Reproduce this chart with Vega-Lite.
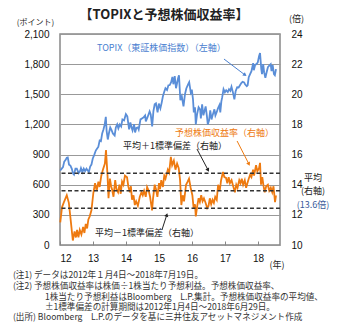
{
"$schema":"https://vega.github.io/schema/vega-lite/v6.json",
"width":220,"height":211,
"autosize":{"type":"none"},
"padding":{"left":60,"top":34,"right":69,"bottom":85},
"config":{"view":{"stroke":"#888888","strokeWidth":1.5},"font":"Noto Sans CJK JP",
 "axis":{"labelFont":"Liberation Sans","labelFontSize":10,"labelColor":"#111111","titleFont":"Noto Sans CJK JP","titleFontWeight":"normal","titleColor":"#222222","domain":false}},
"title":{"text":"【TOPIXと予想株価収益率】","font":"Noto Sans CJK JP","fontSize":13,"fontWeight":"bold","color":"#222222","anchor":"middle","frame":"group","baseline":"middle","offset":0,"dx":-6,"dy":14},
"datasets":{
"topix":[
{"date":"2012-01-04","value":742},{"date":"2012-01-20","value":760},{"date":"2012-02-03","value":775},{"date":"2012-02-17","value":830},{"date":"2012-03-02","value":845},{"date":"2012-03-16","value":868},{"date":"2012-03-27","value":872},{"date":"2012-04-10","value":800},{"date":"2012-04-25","value":790},{"date":"2012-05-10","value":760},{"date":"2012-05-25","value":710},{"date":"2012-06-04","value":700},{"date":"2012-06-20","value":760},{"date":"2012-07-05","value":760},{"date":"2012-07-25","value":715},{"date":"2012-08-10","value":735},{"date":"2012-08-20","value":765},{"date":"2012-09-05","value":725},{"date":"2012-09-20","value":760},{"date":"2012-10-05","value":735},{"date":"2012-10-20","value":760},{"date":"2012-11-05","value":740},{"date":"2012-11-15","value":725},{"date":"2012-11-30","value":781},{"date":"2012-12-14","value":800},{"date":"2012-12-28","value":859},
{"date":"2013-01-15","value":900},{"date":"2013-01-31","value":940},{"date":"2013-02-15","value":960},{"date":"2013-02-28","value":976},{"date":"2013-03-15","value":1040},{"date":"2013-03-29","value":1034},{"date":"2013-04-12","value":1110},{"date":"2013-04-26","value":1150},{"date":"2013-05-10","value":1200},{"date":"2013-05-22","value":1276},{"date":"2013-05-31","value":1136},{"date":"2013-06-13","value":1050},{"date":"2013-06-25","value":1110},{"date":"2013-07-10","value":1170},{"date":"2013-07-26","value":1140},{"date":"2013-08-08","value":1110},{"date":"2013-08-28","value":1090},{"date":"2013-09-10","value":1170},{"date":"2013-09-25","value":1200},{"date":"2013-10-08","value":1160},{"date":"2013-10-24","value":1200},{"date":"2013-11-08","value":1180},{"date":"2013-11-22","value":1250},{"date":"2013-12-10","value":1240},{"date":"2013-12-30","value":1302},
{"date":"2014-01-15","value":1280},{"date":"2014-02-04","value":1150},{"date":"2014-02-18","value":1220},{"date":"2014-03-03","value":1170},{"date":"2014-03-14","value":1140},{"date":"2014-03-31","value":1202},{"date":"2014-04-11","value":1120},{"date":"2014-04-25","value":1165},{"date":"2014-05-12","value":1170},{"date":"2014-05-21","value":1150},{"date":"2014-06-10","value":1250},{"date":"2014-06-30","value":1262},{"date":"2014-07-15","value":1270},{"date":"2014-07-31","value":1289},{"date":"2014-08-08","value":1230},{"date":"2014-08-29","value":1277},{"date":"2014-09-19","value":1330},{"date":"2014-10-01","value":1300},{"date":"2014-10-17","value":1180},{"date":"2014-10-31","value":1333},{"date":"2014-11-14","value":1400},{"date":"2014-11-28","value":1410},{"date":"2014-12-16","value":1320},{"date":"2014-12-30","value":1407},
{"date":"2015-01-16","value":1360},{"date":"2015-01-30","value":1415},{"date":"2015-02-13","value":1480},{"date":"2015-02-27","value":1523},{"date":"2015-03-13","value":1560},{"date":"2015-03-31","value":1543},{"date":"2015-04-15","value":1590},{"date":"2015-04-30","value":1592},{"date":"2015-05-15","value":1620},{"date":"2015-05-29","value":1673},{"date":"2015-06-09","value":1600},{"date":"2015-06-24","value":1680},{"date":"2015-07-08","value":1560},{"date":"2015-07-31","value":1659},{"date":"2015-08-10","value":1690},{"date":"2015-08-25","value":1440},{"date":"2015-09-10","value":1480},{"date":"2015-09-29","value":1380},{"date":"2015-10-15","value":1500},{"date":"2015-10-30","value":1558},{"date":"2015-11-20","value":1600},{"date":"2015-12-01","value":1620},{"date":"2015-12-18","value":1520},{"date":"2015-12-30","value":1547},
{"date":"2016-01-12","value":1450},{"date":"2016-01-21","value":1320},{"date":"2016-02-03","value":1370},{"date":"2016-02-12","value":1200},{"date":"2016-02-26","value":1300},{"date":"2016-03-14","value":1370},{"date":"2016-03-31","value":1347},{"date":"2016-04-08","value":1260},{"date":"2016-04-22","value":1400},{"date":"2016-05-06","value":1290},{"date":"2016-05-31","value":1379},{"date":"2016-06-13","value":1290},{"date":"2016-06-24","value":1200},{"date":"2016-07-08","value":1240},{"date":"2016-07-21","value":1340},{"date":"2016-08-04","value":1250},{"date":"2016-08-19","value":1300},{"date":"2016-09-05","value":1350},{"date":"2016-09-16","value":1290},{"date":"2016-09-30","value":1322},{"date":"2016-10-14","value":1360},{"date":"2016-10-31","value":1393},{"date":"2016-11-09","value":1320},{"date":"2016-11-21","value":1430},{"date":"2016-11-30","value":1469},{"date":"2016-12-15","value":1550},{"date":"2016-12-30","value":1519},
{"date":"2017-01-13","value":1540},{"date":"2017-01-31","value":1521},{"date":"2017-02-14","value":1550},{"date":"2017-02-28","value":1535},{"date":"2017-03-13","value":1575},{"date":"2017-03-31","value":1512},{"date":"2017-04-14","value":1450},{"date":"2017-04-28","value":1531},{"date":"2017-05-15","value":1570},{"date":"2017-05-31","value":1568},{"date":"2017-06-15","value":1590},{"date":"2017-06-30","value":1611},{"date":"2017-07-14","value":1625},{"date":"2017-07-31","value":1618},{"date":"2017-08-10","value":1600},{"date":"2017-08-29","value":1580},{"date":"2017-09-08","value":1590},{"date":"2017-09-20","value":1670},{"date":"2017-10-05","value":1700},{"date":"2017-10-20","value":1730},{"date":"2017-11-08","value":1810},{"date":"2017-11-15","value":1740},{"date":"2017-11-30","value":1792},{"date":"2017-12-15","value":1800},{"date":"2017-12-29","value":1818},
{"date":"2018-01-12","value":1880},{"date":"2018-01-23","value":1911},{"date":"2018-02-06","value":1750},{"date":"2018-02-14","value":1700},{"date":"2018-02-27","value":1800},{"date":"2018-03-09","value":1720},{"date":"2018-03-23","value":1664},{"date":"2018-04-06","value":1720},{"date":"2018-04-20","value":1770},{"date":"2018-05-10","value":1790},{"date":"2018-05-21","value":1800},{"date":"2018-05-30","value":1730},{"date":"2018-06-12","value":1790},{"date":"2018-06-26","value":1700},{"date":"2018-07-06","value":1690},{"date":"2018-07-19","value":1750}
],
"per":[
{"date":"2012-01-04","per":11.5},{"date":"2012-01-23","per":12.5},{"date":"2012-02-17","per":12.9},{"date":"2012-03-16","per":13.3},{"date":"2012-04-08","per":12.8},{"date":"2012-05-01","per":11.5},{"date":"2012-05-22","per":10.3},{"date":"2012-06-10","per":10.9},{"date":"2012-06-25","per":10.5},{"date":"2012-07-08","per":11.0},{"date":"2012-07-23","per":10.5},{"date":"2012-08-07","per":11.0},{"date":"2012-08-25","per":10.7},{"date":"2012-09-13","per":11.2},{"date":"2012-09-27","per":10.8},{"date":"2012-10-12","per":11.4},{"date":"2012-10-27","per":11.1},{"date":"2012-11-10","per":11.7},{"date":"2012-11-25","per":11.9},{"date":"2012-12-14","per":12.3},
{"date":"2013-01-04","per":13.45},{"date":"2013-01-23","per":14.1},{"date":"2013-02-10","per":13.6},{"date":"2013-03-01","per":14.2},{"date":"2013-03-15","per":13.85},{"date":"2013-04-02","per":14.6},{"date":"2013-04-20","per":15.0},{"date":"2013-05-12","per":15.4},{"date":"2013-05-24","per":16.3},{"date":"2013-06-10","per":14.6},{"date":"2013-06-21","per":13.1},{"date":"2013-07-06","per":14.4},{"date":"2013-07-20","per":13.9},{"date":"2013-08-01","per":13.65},{"date":"2013-08-15","per":13.2},{"date":"2013-09-03","per":14.3},{"date":"2013-09-17","per":13.7},{"date":"2013-10-05","per":13.5},{"date":"2013-10-20","per":14.0},{"date":"2013-11-03","per":13.4},{"date":"2013-11-18","per":14.2},{"date":"2013-12-03","per":14.0},{"date":"2013-12-20","per":14.6},
{"date":"2014-01-12","per":14.5},{"date":"2014-01-26","per":13.9},{"date":"2014-02-12","per":13.5},{"date":"2014-02-24","per":13.9},{"date":"2014-03-08","per":13.0},{"date":"2014-03-25","per":13.3},{"date":"2014-04-08","per":12.65},{"date":"2014-04-23","per":12.9},{"date":"2014-05-12","per":12.6},{"date":"2014-06-02","per":13.2},{"date":"2014-06-21","per":13.5},{"date":"2014-07-05","per":13.3},{"date":"2014-07-20","per":13.6},{"date":"2014-08-07","per":13.2},{"date":"2014-08-22","per":13.85},{"date":"2014-09-09","per":13.6},{"date":"2014-09-24","per":13.2},{"date":"2014-10-16","per":12.3},{"date":"2014-10-27","per":13.1},{"date":"2014-11-14","per":14.0},{"date":"2014-11-29","per":13.7},{"date":"2014-12-14","per":13.2},
{"date":"2015-01-01","per":14.1},{"date":"2015-01-12","per":13.7},{"date":"2015-01-26","per":14.3},{"date":"2015-02-13","per":13.85},{"date":"2015-02-28","per":14.6},{"date":"2015-03-14","per":14.4},{"date":"2015-04-08","per":15.0},{"date":"2015-04-23","per":14.8},{"date":"2015-05-12","per":15.85},{"date":"2015-05-26","per":15.3},{"date":"2015-06-14","per":15.6},{"date":"2015-07-02","per":15.0},{"date":"2015-07-20","per":15.4},{"date":"2015-08-07","per":15.1},{"date":"2015-08-22","per":14.3},{"date":"2015-09-05","per":12.65},{"date":"2015-09-20","per":13.3},{"date":"2015-10-05","per":12.9},{"date":"2015-10-27","per":14.0},{"date":"2015-11-14","per":14.2},{"date":"2015-11-29","per":14.4},{"date":"2015-12-17","per":13.8},
{"date":"2016-01-05","per":13.3},{"date":"2016-01-19","per":12.45},{"date":"2016-02-03","per":12.7},{"date":"2016-02-12","per":11.9},{"date":"2016-02-28","per":12.6},{"date":"2016-03-14","per":13.1},{"date":"2016-03-28","per":12.85},{"date":"2016-04-12","per":13.3},{"date":"2016-04-27","per":12.9},{"date":"2016-05-12","per":13.1},{"date":"2016-05-30","per":12.8},{"date":"2016-06-17","per":12.45},{"date":"2016-07-02","per":12.6},{"date":"2016-07-16","per":13.1},{"date":"2016-07-31","per":12.7},{"date":"2016-08-15","per":13.0},{"date":"2016-08-30","per":12.8},{"date":"2016-09-14","per":13.2},{"date":"2016-10-01","per":13.0},{"date":"2016-10-16","per":14.0},{"date":"2016-11-03","per":13.6},{"date":"2016-11-18","per":14.3},{"date":"2016-12-09","per":14.85},{"date":"2016-12-24","per":14.5},
{"date":"2017-01-12","per":14.45},{"date":"2017-01-26","per":14.1},{"date":"2017-02-10","per":14.5},{"date":"2017-02-24","per":14.1},{"date":"2017-03-14","per":14.3},{"date":"2017-04-01","per":13.9},{"date":"2017-04-20","per":13.5},{"date":"2017-05-05","per":14.0},{"date":"2017-05-19","per":13.8},{"date":"2017-06-07","per":14.3},{"date":"2017-06-21","per":14.1},{"date":"2017-07-05","per":14.4},{"date":"2017-07-20","per":14.0},{"date":"2017-08-07","per":14.3},{"date":"2017-08-22","per":13.8},{"date":"2017-09-05","per":14.1},{"date":"2017-09-20","per":14.4},{"date":"2017-10-05","per":14.65},{"date":"2017-10-20","per":14.5},{"date":"2017-11-07","per":15.0},{"date":"2017-11-18","per":14.6},{"date":"2017-12-10","per":15.3},{"date":"2017-12-24","per":14.9},
{"date":"2018-01-12","per":15.1},{"date":"2018-01-23","per":15.45},{"date":"2018-02-03","per":14.0},{"date":"2018-02-17","per":14.5},{"date":"2018-03-03","per":13.9},{"date":"2018-03-16","per":13.5},{"date":"2018-04-01","per":13.9},{"date":"2018-04-20","per":14.0},{"date":"2018-05-05","per":13.6},{"date":"2018-05-22","per":13.8},{"date":"2018-06-07","per":13.5},{"date":"2018-06-21","per":13.9},{"date":"2018-07-08","per":12.85},{"date":"2018-07-19","per":13.3}
],
"bands":[{"stat":"平均+1標準偏差","per":14.76},{"stat":"平均","per":13.6},{"stat":"平均-1標準偏差","per":12.44}],
"notes":[
{"date":"2013-02-14","value":1961,"text":"TOPIX（東証株価指数）（左軸）","kind":"topix"},
{"date":"2015-06-26","value":1115,"text":"予想株価収益率（右軸）","kind":"per"},
{"date":"2013-11-28","value":985,"text":"平均＋1標準偏差（右軸）","kind":"band"},
{"date":"2013-01-23","value":119,"text":"平均－1標準偏差（右軸）","kind":"band"}
],
"side":[
{"date":"2019-09-01","value":667,"text":"平均","kind":"band"},
{"date":"2019-09-01","value":537,"text":"(右軸)","kind":"band"},
{"date":"2019-09-01","value":403,"text":"(13.6倍)","kind":"mean"},
{"date":"2018-07-29","value":-199,"text":"(年)","kind":"band"}
],
"foot":[
{"date":"2010-07-29","value":-299,"text":"(注1) データは2012年１月4日～2018年7月19日。"},
{"date":"2010-07-29","value":-408,"text":"(注2) 予想株価収益率は株価÷1株当たり予想利益。予想株価収益率、"},
{"date":"2011-07-18","value":-517,"text":"1株当たり予想利益はBloomberg　L.P.集計。予想株価収益率の平均値、"},
{"date":"2011-07-18","value":-617,"text":"±1標準偏差の計算期間は2012年1月4日～2018年6月29日。"},
{"date":"2010-07-29","value":-717,"text":"(出所) Bloomberg　L.P.のデータを基に三井住友アセットマネジメント作成"}
],
"arrows":[
{"id":"topix","date":"2017-08-10","value":1692,"date2":"2016-12-20","value2":1851,"kind":"topix"},
{"id":"per","date":"2017-09-22","value":806,"date2":"2017-05-14","value2":1035,"kind":"per"},
{"id":"plus","date":"2016-06-27","value":746,"date2":"2016-02-25","value2":955,"kind":"band"},
{"id":"minus","date":"2015-03-28","value":299,"date2":"2015-02-02","value2":149,"kind":"band"}
]
},
"layer":[
{"encoding":{
  "x":{"field":"date","type":"temporal","scale":{"domain":["2012-01-01","2018-09-01"]},
    "axis":{"format":"%y","tickCount":{"interval":"year","step":1},"grid":false,"tickSize":-4,"tickColor":"#888888","tickWidth":1,"labelPadding":12,"labelFontSize":10,"labelBaseline":"top","title":null}},
  "y":{"field":"value","type":"quantitative","scale":{"domain":[0,2100],"nice":false},
    "axis":{"orient":"left","values":[0,300,600,900,1200,1500,1800,2100],"format":",d","grid":true,"gridColor":"#999999","gridWidth":1,"ticks":false,"labelPadding":11,
      "title":"(ポイント)","titleAngle":0,"titleFontSize":8,"titleAlign":"center","titleBaseline":"middle","titleX":-25,"titleY":-12}}},
 "layer":[
 {"data":{"name":"topix"},"mark":{"type":"line","color":"#5a8ed8","strokeWidth":1.8}},
 {"data":{"name":"notes"},"mark":{"type":"text","align":"left","baseline":"middle","fontSize":9,"font":"Noto Sans CJK JP"},
  "encoding":{"text":{"field":"text"},
   "color":{"field":"kind","type":"nominal","scale":{"domain":["topix","per","band","mean"],"range":["#4a80d0","#ee7a10","#222222","#3a5a9a"]},"legend":null}}},
 {"data":{"name":"side"},"mark":{"type":"text","align":"center","baseline":"middle","fontSize":9,"font":"Noto Sans CJK JP"},
  "encoding":{"text":{"field":"text"},"color":{"field":"kind","type":"nominal","legend":null}}},
 {"data":{"name":"foot"},"mark":{"type":"text","align":"left","baseline":"middle","fontSize":8.6,"font":"Noto Sans CJK JP","color":"#333333"},
  "encoding":{"text":{"field":"text"}}},
 {"data":{"name":"arrows"},"mark":{"type":"rule","strokeWidth":1},
  "encoding":{"x2":{"field":"date2"},"y2":{"field":"value2"},"color":{"field":"kind","type":"nominal","legend":null}}},
 {"data":{"name":"arrows"},"transform":[{"filter":"datum.id=='topix'"}],"mark":{"type":"point","shape":"triangle-up","filled":true,"size":18,"angle":127,"opacity":1},
  "encoding":{"color":{"field":"kind","type":"nominal","legend":null}}},
 {"data":{"name":"arrows"},"transform":[{"filter":"datum.id=='per' || datum.id=='plus'"}],"mark":{"type":"point","shape":"triangle-up","filled":true,"size":18,"angle":152,"opacity":1},
  "encoding":{"color":{"field":"kind","type":"nominal","legend":null}}},
 {"data":{"name":"arrows"},"transform":[{"filter":"datum.id=='minus'"}],"mark":{"type":"point","shape":"triangle-up","filled":true,"size":18,"angle":18,"opacity":1},
  "encoding":{"color":{"field":"kind","type":"nominal","legend":null}}}
]},
{"encoding":{
  "y":{"field":"per","type":"quantitative","scale":{"domain":[10,24],"nice":false},
    "axis":{"orient":"right","values":[10,12,14,16,18,20,22,24],"grid":false,"ticks":false,"labelPadding":11,
     "title":"(倍)","titleAngle":0,"titleFontSize":9,"titleAlign":"center","titleBaseline":"middle","titleX":16,"titleY":-16}}},
 "layer":[
 {"data":{"name":"per"},"mark":{"type":"line","color":"#ee7a10","strokeWidth":1.8},
  "encoding":{"x":{"field":"date","type":"temporal"}}},
 {"data":{"name":"bands"},"mark":{"type":"rule","color":"#333333","strokeWidth":1.5,"strokeDash":[4,2.5]}}
]}
],
"resolve":{"scale":{"y":"independent"}}
}
